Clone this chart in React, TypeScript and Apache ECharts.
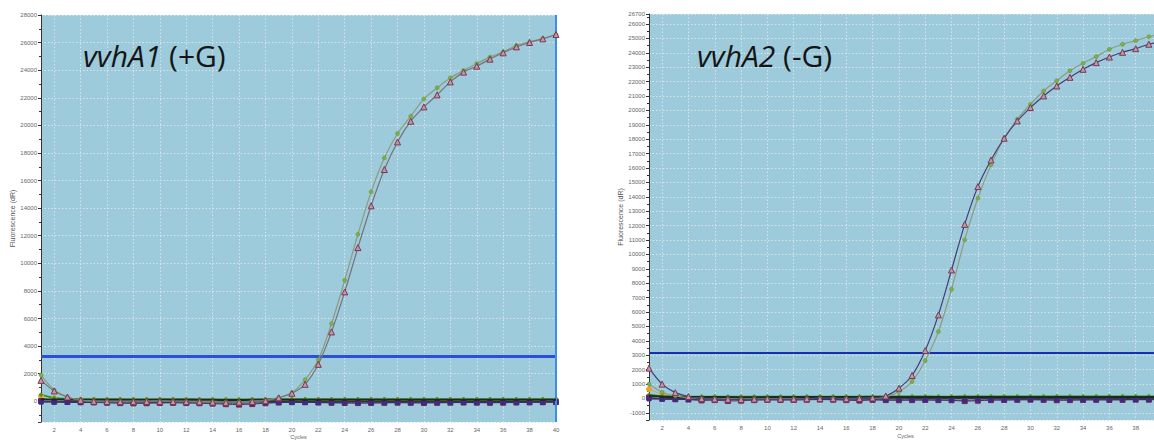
import React, { useEffect, useRef } from "react";
import * as echarts from "echarts";

// ---- data ----
const cycles = [1,2,3,4,5,6,7,8,9,10,11,12,13,14,15,16,17,18,19,20,21,22,23,24,25,26,27,28,29,30,31,32,33,34,35,36,37,38,39,40];

// Panel 1: vvhA1 (+G)
const triA1 = [1520,750,310,70,0,-20,-30,-30,-20,-10,-20,-30,-40,-60,-80,-60,-20,40,250,580,1230,2680,5030,7930,11140,14170,16800,18800,20300,21340,22210,23150,23860,24290,24800,25260,25690,26010,26270,26590];
const circA1 = [1900,820,330,80,10,0,-10,-10,0,10,0,-10,-20,-30,-50,-40,0,60,280,620,1570,3020,5630,8770,12110,15180,17640,19410,20670,21920,22720,23450,23980,24490,24950,25330,25790,26050,26300,26590];
const redSqA1 = [20,-20,-50,-70,-80,-100,-130,-150,-140,-120,-110,-120,-140,-170,-210,-240,-200,-140,-90,-60,-70,-90,-110,-120,-130,-120,-110,-100,-110,-120,-110,-100,-90,-100,-110,-100,-90,-80,-70,-60];
const navyA1 = [-60,-70,-80,-90,-90,-100,-110,-110,-100,-90,-90,-100,-110,-120,-130,-140,-120,-100,-90,-80,-80,-90,-100,-100,-110,-110,-100,-90,-100,-100,-90,-90,-80,-90,-90,-80,-80,-70,-70,-60];
const blackA1 = [150,130,120,110,110,110,105,105,110,110,110,110,105,105,100,100,105,110,110,115,115,110,110,110,110,110,115,115,110,110,110,110,115,115,110,110,110,115,115,120];
const greenA1 = [480,260,190,170,160,160,160,155,155,160,160,160,155,150,150,150,155,160,165,165,165,160,160,160,165,165,165,160,160,165,165,165,170,170,165,165,170,170,170,175];
const orangeA1 = [380,220,150,120,110,100,100,95,95,100,100,95,90,90,85,85,90,95,100,100,100,100,95,95,100,100,100,100,95,95,100,100,100,100,105,105,100,100,105,105];
const thresholdA1 = 3300;

// Panel 2: vvhA2 (-G)
const triA2 = [2100,990,400,130,-20,-40,-60,-70,-50,-40,-40,-40,-30,-20,-20,-30,-10,30,170,710,1590,3320,5800,8920,12090,14710,16560,18070,19270,20200,21010,21700,22300,22860,23320,23710,24040,24290,24600,24750];
const circA2 = [1000,430,180,50,0,-20,-30,-40,-30,-20,-20,-20,-10,0,0,-10,0,20,100,470,1170,2630,4640,7580,11010,13900,16220,18070,19390,20430,21350,22070,22760,23280,23740,24250,24600,24850,25120,25300];
const redSqA2 = [60,-20,-60,-80,-140,-120,-180,-160,-120,-100,-110,-110,-90,-80,-90,-120,-150,-100,-120,-130,-120,-110,-120,-130,-190,-160,-120,-110,-100,-90,-100,-130,-120,-110,-100,-110,-100,-90,-90,-80];
const navyA2 = [-40,-60,-70,-80,-90,-90,-100,-100,-90,-90,-90,-90,-80,-80,-80,-90,-100,-90,-100,-100,-100,-100,-110,-110,-120,-110,-100,-100,-90,-90,-90,-100,-100,-90,-90,-90,-80,-80,-80,-70];
const blackA2 = [160,120,100,90,90,90,90,85,85,90,90,90,90,95,95,90,90,90,95,95,95,95,95,90,90,90,95,95,95,95,95,95,100,100,100,100,100,100,100,100];
const greenA2 = [250,180,150,140,140,140,135,135,135,140,140,140,140,140,140,140,140,145,145,145,145,145,140,140,145,145,145,145,150,150,150,150,150,150,155,155,155,155,155,160];
const orangeA2 = [640,290,130,60,40,30,30,30,30,40,40,40,40,40,40,40,40,40,50,50,60,60,60,60,60,60,60,60,60,60,60,60,60,60,60,60,60,60,60,60];
const thresholdA2 = 3200;

const titles = [
  { gene: "vvhA1", tag: "(+G)" },
  { gene: "vvhA2", tag: "(-G)" },
];

const BG = "#9dcbdc";
const GRID_LINE = "#d6e3e8";

function pairs(vals: number[]) {
  return cycles.map((c, i) => [c, vals[i]]);
}

const plain = (v: number) => String(v);

function xAxisFor(gridIndex: number, showMax: boolean, nameGap: number) {
  return {
    type: "value",
    gridIndex,
    min: 1,
    max: 40,
    splitNumber: 20,
    name: "Cycles",
    nameLocation: "middle",
    nameGap,
    nameMoveOverlap: false,
    nameTextStyle: { fontSize: 5.5, color: "#666", verticalAlign: "top" },
    axisLine: { show: true, lineStyle: { color: "#333", width: 1 } },
    axisTick: { show: true, length: 3, lineStyle: { color: "#333" } },
    minorTick: { show: true, splitNumber: 2, length: 2, lineStyle: { color: "#333" } },
    axisLabel: { fontSize: 6, color: "#666", margin: 5, showMinLabel: false, showMaxLabel: showMax, formatter: plain },
    splitLine: { show: true, lineStyle: { color: GRID_LINE, type: [1.5, 2], width: 1 } },
  };
}

function yAxisFor(gridIndex: number, min: number, max: number, splitNumber: number, nameGap: number) {
  return {
    type: "value",
    gridIndex,
    min,
    max,
    splitNumber,
    name: "Fluorescence (dR)",
    nameLocation: "middle",
    nameGap,
    nameTextStyle: { fontSize: 7, color: "#555" },
    axisLine: { show: true, lineStyle: { color: "#333", width: 1 } },
    axisTick: { show: true, length: 3, lineStyle: { color: "#333" } },
    minorTick: { show: true, splitNumber: 2, length: 2, lineStyle: { color: "#333" } },
    axisLabel: { fontSize: 6, color: "#666", margin: 4, showMinLabel: false, showMaxLabel: true, formatter: plain },
    splitLine: { show: true, lineStyle: { color: GRID_LINE, type: [1.5, 2], width: 1 } },
  };
}

function baseSeries(idx: number, data: number[], color: string, symbol: string, size: number, lineColor: string, width = 1, z = 2) {
  return {
    type: "line",
    xAxisIndex: idx,
    yAxisIndex: idx,
    data: pairs(data),
    symbol,
    symbolSize: size,
    smooth: 0.3,
    z,
    itemStyle: { color, borderColor: color },
    lineStyle: { color: lineColor, width },
  };
}

function panelSeries(
  idx: number,
  tri: number[],
  circ: number[],
  redSq: number[],
  navy: number[],
  black: number[],
  green: number[],
  orange: number[],
  threshold: number,
  triLine: string,
  thrColor: string,
  thrWidth: number,
  edgeLine: boolean
) {
  const markData: any[] = [{ yAxis: threshold, lineStyle: { color: thrColor, width: thrWidth, type: "solid" } }];
  if (edgeLine) markData.push({ xAxis: 40, lineStyle: { color: "#3b8fe6", width: 2, type: "solid" } });
  return [
    baseSeries(idx, orange, "#e8a030", "circle", 5, "#d8a050", 1, 3),
    baseSeries(idx, green, "#3a9a2a", "circle", 3, "#2f8a2a", 1.5, 3),
    baseSeries(idx, redSq, "#7a2648", "rect", 5, "#6a3050", 1, 4),
    baseSeries(idx, navy, "#3a2d8a", "rect", 4, "#2a2f7a", 1, 4),
    baseSeries(idx, black, "#222222", "none", 2, "#1e2a1e", 2, 5),
    {
      type: "line",
      xAxisIndex: idx,
      yAxisIndex: idx,
      data: pairs(circ),
      symbol: "circle",
      symbolSize: 4,
      smooth: 0.3,
      z: 6,
      itemStyle: { color: "#7eb044", borderColor: "#5f8f32", borderWidth: 0.5 },
      lineStyle: { color: "#8d9c7a", width: 1.2 },
    },
    {
      type: "line",
      xAxisIndex: idx,
      yAxisIndex: idx,
      data: pairs(tri),
      symbol: "triangle",
      symbolSize: 6,
      smooth: 0.3,
      z: 7,
      itemStyle: { color: "#b89aa8", borderColor: "#7e3552", borderWidth: 1 },
      lineStyle: { color: triLine, width: 1.2 },
      markLine: {
        silent: true,
        symbol: "none",
        label: { show: false },
        data: markData,
      },
    },
  ];
}

function titleText(left: number, t: { gene: string; tag: string }) {
  return {
    type: "text",
    left,
    top: 40,
    z: 20,
    style: {
      text: `{i|${t.gene}}{n| ${t.tag}}`,
      rich: {
        i: { fontSize: 30, fontStyle: "italic", fontFamily: "'Open Sans', sans-serif", fill: "#151515" },
        n: { fontSize: 30, fontFamily: "'Open Sans', sans-serif", fill: "#151515" },
      },
    },
  };
}

export default function App() {
  const ref = useRef<HTMLDivElement>(null);
  useEffect(() => {
    if (!ref.current) return;
    const chart = echarts.init(ref.current, undefined, { renderer: "svg" });
    const option: any = {
      animation: false,
      backgroundColor: "#ffffff",
      textStyle: { fontFamily: "'Liberation Sans', Arial, sans-serif" },
      grid: [
        { left: 41, top: 15, width: 515, height: 407, show: true, backgroundColor: BG, borderWidth: 0, outerBoundsMode: "none", containLabel: false },
        { left: 649, top: 14, width: 513, height: 406, show: true, backgroundColor: BG, borderWidth: 0, outerBoundsMode: "none", containLabel: false },
      ],
      xAxis: [xAxisFor(0, true, 12), xAxisFor(1, false, 13)],
      yAxis: [yAxisFor(0, -1500, 28000, 15, 24), yAxisFor(1, -1500, 26700, 28, 24)],
      series: [
        ...panelSeries(0, triA1, circA1, redSqA1, navyA1, blackA1, greenA1, orangeA1, thresholdA1, "#77707e", "#2b4fd8", 3, true),
        ...panelSeries(1, triA2, circA2, redSqA2, navyA2, blackA2, greenA2, orangeA2, thresholdA2, "#463c74", "#1630b4", 2, false),
      ],
      graphic: [titleText(83, titles[0]), titleText(697, titles[1])],
    };
    chart.setOption(option);
    return () => chart.dispose();
  }, []);
  return (
    <div
      ref={ref}
      style={{ position: "absolute", left: 0, top: 0, width: 1154, height: 441, overflow: "hidden" }}
    />
  );
}
